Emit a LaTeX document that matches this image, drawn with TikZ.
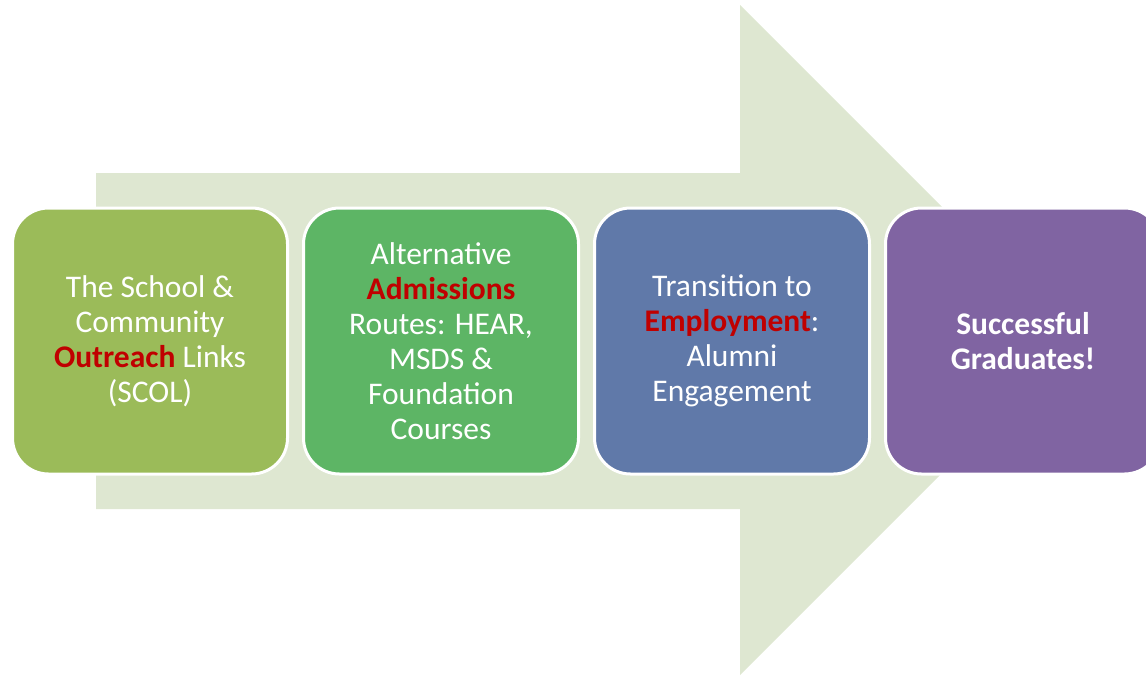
\documentclass[tikz,border=0pt]{standalone}
\usepackage{fontspec}
\setmainfont{Carlito}
\definecolor{arrowfill}{HTML}{DEE7D1}
\definecolor{boxA}{HTML}{9BBB59}
\definecolor{boxB}{HTML}{5DB565}
\definecolor{boxC}{HTML}{6079A9}
\definecolor{boxD}{HTML}{8064A2}
\definecolor{redtxt}{HTML}{C00000}
\newcommand{\hl}[1]{\textcolor{redtxt}{\textbf{#1}}}
\begin{document}
\begin{tikzpicture}[x=1pt,y=-1pt,
  stagebox/.style={draw=white, line width=3pt, rounded corners=36pt,
    minimum width=275pt, minimum height=266pt, inner sep=0pt,
    text=white, align=center,
    font=\fontsize{31.5pt}{35pt}\selectfont}]
\useasboundingbox (0,0) rectangle (1146,675);
\clip (0,0) rectangle (1146,675);
\fill[arrowfill] (96,173) -- (740,173) -- (740,5) -- (1075,340) -- (740,675) -- (740,509) -- (96,509) -- cycle;
\node[stagebox, fill=boxA] (s1) at (150,341) {The School \&\\Community\\\hl{Outreach} Links\\(SCOL)};
\node[stagebox, fill=boxB] (s2) at (441,341) {Alternative\\\hl{Admissions}\\Routes: HEAR,\\MSDS \&\\Foundation\\Courses};
\node[stagebox, fill=boxC] (s3) at (732,341) {Transition to\\\hl{Employment}:\\Alumni\\Engagement};
\node[stagebox, fill=boxD, font=\fontsize{31.5pt}{35pt}\selectfont\bfseries] (s4) at (1023,341) {Successful\\Graduates!};
\end{tikzpicture}
\end{document}
